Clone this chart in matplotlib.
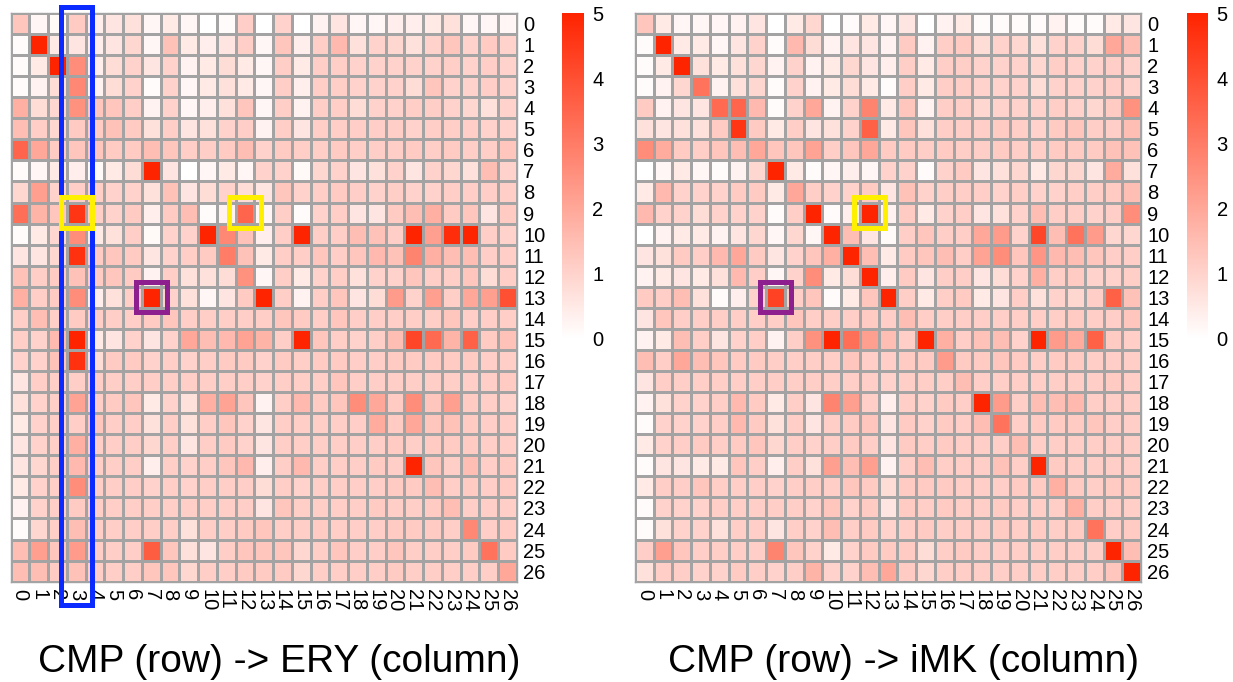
import numpy as np
import matplotlib
matplotlib.use('Agg')
import matplotlib.pyplot as plt
from matplotlib.colors import LinearSegmentedColormap
from matplotlib.patches import Rectangle

plt.rcParams['font.family'] = ['Liberation Sans', 'DejaVu Sans']

clusters = [str(i) for i in range(27)]

# CMP (row) -> ERY (column)
ery = np.array([
    [1.3,0.2,0.15,1.2,0.4,0.6,0.7,0.2,0.5,0.2,0,0.1,1.1,0, 1.0,0,0.3,0.6,0.2,0.2,0.4,0.4,0.5,0.7,0.2,0.2,0.2],
    [0.1,5,0.5,0.6,0.4,0.6,0.9,0.2,1.4,0.5,0.4,0.6,1.1,0.2, 1.3,0.4,1.1,1.6,0.7,1.0,0.9,0.7,1.0,1.3,1.0,1.2,1.0],
    [0.1,0.5,5,2.6,0.4,0.8,1.0,0.6,1.0,0.3,0.5,0.8,0.5,0.2, 1.1,0.5,1.1,1.1,1.0,1.0,1.0,1.0,1.0,1.1,1.0,1.1,1.0],
    [0.1,0.3,0.8,2.7,0.3,0.8,1.0,0.1,1.0,0.2,0.5,0.7,0.5,0.2, 1.1,0.4,1.1,1.1,1.0,1.0,1.0,0.8,1.3,1.0,1.0,1.1,1.0],
    [1.8,0.8,0.9,2.5,1.3,1.3,1.1,0.3,1.0,0.2,0.4,0.7,1.3,0.2, 1.1,0.3,1.1,1.1,0.8,1.0,1.0,1.1,1.1,1.0,0.9,0.7,1.0],
    [1.5,1.1,0.9,1.2,1.2,1.4,1.2,0.7,1.1,0.6,0.7,1.0,1.1,0.3, 1.1,0.6,1.1,1.1,1.1,1.1,1.1,1.0,1.1,1.1,1.1,1.0,1.0],
    [3.5,2.0,1.2,1.3,1.3,1.2,1.2,1.5,1.3,1.1,1.1,1.2,1.5,1.0, 1.2,1.1,1.1,1.2,1.1,1.1,1.1,1.2,1.1,1.2,1.1,1.1,1.3],
    [0.1,0.2,0.5,0.4,0.15,0.5,0.8,5,0.6,0,0.2,0.5,0.2,1.0, 1.0,0.15,0.9,1.0,0.6,0.7,1.0,0.6,1.0,0.9,0.7,1.5,1.0],
    [0.9,2.2,1.0,1.1,1.1,1.0,1.0,0.7,1.4,0.6,0.8,1.0,0.8,0.6, 1.3,1.0,1.1,1.2,1.1,1.0,1.1,1.0,1.0,1.1,1.1,1.1,1.1],
    [3.3,1.7,1.3,4.6,1.1,1.0,1.2,0.4,1.2,1.5,0.1,0.3,3.5,0.2, 1.1,0.1,1.0,1.1,0.6,0.6,1.2,1.5,1.8,1.2,1.3,0.6,1.2],
    [0.1,0.5,0.9,2.6,0.5,0.7,1.1,0.15,1.0,1.0,5,2.7,1.4,0.4, 1.1,5,1.1,1.1,1.5,1.4,1.1,5,2.2,4.8,5,1.1,1.0],
    [0.6,0.6,0.9,4.7,1.2,1.3,1.2,0.6,1.0,1.1,1.2,3.0,1.4,0.5, 1.1,1.1,1.3,1.1,1.3,1.6,1.4,2.8,1.8,1.5,1.5,1.1,1.1],
    [1.4,1.1,1.2,1.4,1.2,1.3,1.2,0.3,1.1,0.7,0.7,0.8,2.5,0.2, 1.1,0.5,1.0,1.1,0.7,1.0,1.0,1.3,1.1,1.1,1.3,0.8,1.1],
    [1.8,1.1,1.2,2.6,0.4,0.7,1.1,5,1.0,0.7,0.2,0.6,1.2,5, 1.1,0.3,1.1,1.3,0.6,0.8,2.3,1.0,2.2,1.1,2.0,2.2,4.0],
    [1.1,1.5,1.1,1.2,1.1,1.1,1.1,1.2,1.3,1.1,1.1,1.1,1.1,1.1, 1.3,1.2,1.1,1.3,1.1,1.1,1.1,1.1,1.1,1.3,1.1,1.1,1.1],
    [1.1,1.0,1.6,5,0.5,0.6,1.0,0.6,1.0,2.0,1.5,1.6,2.1,1.7, 1.1,5,1.3,1.1,1.0,1.1,1.5,4.2,3.4,1.7,3.6,1.2,1.4],
    [1.0,1.0,1.4,4.7,0.8,1.2,1.2,1.0,1.1,1.0,1.1,1.2,1.2,1.0, 1.2,1.1,1.2,1.2,1.1,1.1,1.2,1.2,1.2,1.2,1.2,1.1,1.1],
    [0.6,1.1,1.1,1.1,1.1,1.1,1.1,1.1,1.1,1.1,1.1,1.1,1.1,1.0, 1.1,1.1,1.1,1.3,1.1,1.1,1.1,1.1,1.1,1.1,1.1,1.1,1.2],
    [0.7,1.0,1.1,2.1,1.1,1.2,1.3,0.5,1.0,0.7,1.8,2.1,1.3,0.3, 1.1,1.6,1.2,1.3,2.6,2.0,1.2,2.6,1.3,2.2,1.2,1.1,1.0],
    [0.5,1.0,1.1,1.1,1.3,1.1,1.1,0.7,1.1,0.7,1.1,1.3,1.0,0.6, 1.1,1.1,1.1,1.1,1.1,1.9,1.2,2.0,1.3,1.4,1.2,1.1,1.1],
    [0.6,1.0,1.1,1.8,1.1,1.1,1.1,0.9,1.1,0.6,1.1,1.2,1.0,0.6, 1.1,1.1,1.1,1.1,1.1,1.1,1.2,1.1,1.2,1.2,1.2,1.1,1.1],
    [0.6,0.9,1.1,1.6,1.1,1.1,1.1,0.4,1.1,1.0,1.1,1.3,1.6,0.4, 1.1,1.6,1.1,1.1,1.1,1.2,1.1,5,1.3,1.1,1.5,1.1,1.2],
    [0.5,1.0,1.1,2.6,1.1,1.1,1.1,1.0,1.1,1.0,1.1,1.1,1.1,0.8, 1.1,1.0,1.1,1.1,1.1,1.1,1.2,1.2,1.5,1.1,1.2,1.1,1.2],
    [0.3,1.0,1.1,1.2,1.1,1.1,1.1,1.1,1.1,1.1,1.1,1.1,1.1,0.6, 1.3,1.1,1.1,1.1,1.1,1.2,1.1,1.1,1.2,1.5,1.1,1.1,1.1],
    [0.1,0.9,1.1,1.5,1.1,1.1,1.1,1.1,1.1,0.7,1.1,1.1,1.2,1.3, 1.1,1.1,1.2,1.1,1.1,1.1,1.2,1.2,1.2,1.1,2.7,1.1,1.2],
    [1.5,2.2,1.3,2.3,1.1,1.1,1.1,3.7,1.3,0.7,0.6,1.1,1.3,1.3, 1.3,0.9,1.1,1.3,1.1,1.1,1.3,1.1,1.1,1.1,1.2,3.2,1.2],
    [1.5,1.5,1.2,1.4,1.1,1.1,1.1,1.3,1.3,0.9,1.1,1.1,1.2,1.2, 1.2,0.9,1.1,1.1,1.1,1.1,1.2,1.1,1.1,1.1,1.1,1.1,2.0],
])

# CMP (row) -> iMK (column)
imk = np.array([
    [1.3,0.5,0.2,0.2,0.2,0.3,0.6,0,0.5,0.9,0,0.1,0.5,0.2, 0.6,0,0.3,0.5,0.1,0.1,0.1,0.1,0.3,0.1,0.1,0.5,0.6],
    [0.1,5,0.5,0.5,0.2,0.6,1.0,0.1,1.6,0.8,0.3,0.6,0.6,0.3, 1.2,0.3,1.1,1.2,0.8,1.0,0.9,0.7,1.0,1.0,0.8,2.0,1.5],
    [0.1,0.5,5,0.7,0.5,0.7,0.9,0.3,1.0,0.3,0.5,0.9,0.6,0.4, 1.1,0.5,1.1,1.1,1.0,1.0,1.0,0.9,1.1,1.0,1.0,1.1,1.0],
    [0.1,0.3,0.9,3.2,0.3,0.7,0.9,0.1,1.0,0.3,0.5,0.8,0.5,0.1, 1.1,0.5,1.1,1.1,1.0,1.0,1.0,0.8,1.0,1.0,1.0,1.1,1.0],
    [1.2,0.3,0.6,0.6,3.4,3.5,1.6,0.1,1.0,2.0,0.3,1.0,2.8,0.5, 1.3,0.3,1.1,1.1,0.9,1.0,1.0,1.0,1.1,1.0,0.9,1.2,2.5],
    [0.7,0.6,0.7,0.7,1.2,4.6,1.2,0.5,1.1,0.6,0.7,1.0,3.6,0.5, 1.3,0.7,1.1,1.1,1.1,1.2,1.1,1.0,1.2,1.3,1.1,1.1,1.5],
    [2.6,1.9,1.2,1.1,1.3,1.5,2.0,1.3,1.3,2.1,1.1,1.3,2.0,1.2, 1.2,1.1,1.2,1.1,1.1,1.2,1.1,1.1,1.2,1.2,1.2,1.4,1.4],
    [0,0.2,0.5,0.2,0.1,0.3,0.9,5,0.5,0.1,0.2,0.4,0.2,1.0, 1.0,0.1,1.0,1.2,0.6,0.7,0.9,0.5,0.9,0.9,0.6,1.9,0.7],
    [0.5,1.6,1.0,1.0,1.0,1.2,1.2,0.5,2.0,1.1,1.0,1.0,1.2,0.6, 1.4,1.0,1.1,1.1,1.1,1.0,1.1,1.0,1.0,1.1,1.1,1.2,1.5],
    [1.6,1.0,1.0,0.8,1.0,1.0,1.0,0.1,1.1,5,0.1,0.4,5,0.3, 1.2,0.5,1.0,1.1,0.6,0.7,1.0,1.5,1.1,1.1,1.0,1.1,2.6],
    [0,0.3,0.5,0.5,0.3,0.6,0.9,0.2,0.9,0.2,5,1.5,0.6,0.15, 1.1,1.3,1.1,1.1,2.0,2.3,1.0,4.2,1.5,3.2,2.3,0.9,0.9],
    [0.6,0.7,1.2,1.1,1.6,2.0,1.2,0.6,1.0,1.3,1.8,5,1.5,0.5, 1.2,1.3,1.5,1.1,2.1,2.6,1.3,2.4,1.6,1.5,1.3,1.1,1.1],
    [0.3,0.5,0.6,0.5,0.7,1.6,1.1,0.2,1.0,2.6,0.5,0.8,5,0.4, 1.2,0.6,1.1,1.1,0.6,0.8,1.0,1.8,1.1,1.2,1.0,1.0,1.1],
    [1.2,1.1,1.5,0.7,0.1,0.4,1.0,4.3,1.1,1.3,0.1,0.5,1.3,5, 1.1,0.5,1.1,1.2,0.5,0.6,1.1,0.7,1.0,0.9,1.1,3.6,1.4],
    [0.6,1.3,1.1,1.1,1.1,1.1,1.1,1.1,1.3,1.1,1.1,1.1,1.2,1.1, 1.5,1.1,1.1,1.1,1.1,1.1,1.1,1.1,1.1,1.2,1.1,1.1,1.3],
    [0.3,0.5,1.5,1.1,0.6,1.0,1.1,0.3,1.1,2.5,5,3.3,2.2,1.5, 1.1,5,1.8,1.1,1.4,1.5,1.0,5,2.3,1.9,3.6,1.2,1.1],
    [1.5,1.1,2.0,1.5,1.3,1.2,1.2,1.1,1.1,1.1,1.1,1.3,1.1,1.1, 1.2,1.2,2.3,1.2,1.2,1.3,1.2,1.1,1.2,1.2,1.1,1.1,1.1],
    [0.6,1.1,1.1,1.1,1.1,1.1,1.1,1.1,1.1,1.1,1.1,1.1,1.1,1.0, 1.1,1.1,1.1,1.5,1.1,1.1,1.1,1.1,1.1,1.1,1.1,1.2,1.1],
    [0.3,0.7,1.0,1.0,1.1,1.6,1.2,0.5,1.1,0.6,2.8,2.2,1.1,0.4, 1.1,1.0,1.2,1.1,5,2.3,1.1,1.5,1.5,1.6,1.1,1.1,1.1],
    [0.1,1.0,1.0,1.0,1.1,1.6,1.2,0.7,1.1,0.6,1.1,1.2,1.3,0.6, 1.2,1.0,1.2,1.1,1.5,3.2,1.1,1.2,1.2,1.2,1.3,1.1,1.1],
    [0.5,1.0,1.1,1.2,1.1,1.2,1.3,0.9,1.1,1.0,1.1,1.2,1.1,0.6, 1.2,1.1,1.2,1.1,1.1,1.1,1.5,1.1,1.1,1.1,1.1,1.1,1.1],
    [0.1,0.6,0.6,0.5,0.5,1.3,1.1,0.4,1.1,0.7,2.2,1.5,2.2,0.3, 1.1,1.5,1.1,1.1,1.1,1.4,1.1,5,1.2,1.1,1.1,1.1,1.1],
    [0.5,1.1,1.1,1.3,1.1,1.1,1.1,1.0,1.1,1.1,1.1,1.3,1.2,0.8, 1.2,1.2,1.2,1.1,1.1,1.1,1.2,1.2,1.8,1.2,1.1,1.2,1.2],
    [0.1,1.0,1.0,1.0,1.1,1.1,1.1,1.1,1.1,1.0,1.3,1.0,1.2,0.6, 1.2,1.1,1.2,1.1,1.1,1.2,1.1,1.1,1.1,1.8,1.1,1.1,1.1],
    [0.1,0.7,1.0,1.0,0.7,1.1,1.1,0.6,1.1,1.0,1.5,1.1,1.2,1.0, 1.1,1.2,1.1,1.1,1.1,1.2,1.1,1.2,1.1,1.2,3.2,1.1,1.2],
    [1.1,2.2,1.3,1.1,1.1,1.1,1.1,2.8,1.3,1.0,0.5,1.0,1.2,1.2, 1.2,0.8,1.1,1.2,1.1,1.1,1.1,1.1,1.1,1.1,1.1,5,1.5],
    [0.7,1.1,1.1,1.0,1.0,1.2,1.1,1.0,1.1,1.7,1.0,1.0,1.5,2.0, 1.2,0.9,1.1,1.1,1.1,1.1,1.1,1.1,1.1,1.1,1.1,1.3,5],
])

titles = ['CMP (row) -> ERY (column)', 'CMP (row) -> iMK (column)']

# highlighted cells: (panel, row, col, colour)
boxes = [
    (0, 9, 3, '#FFF000'),
    (0, 9, 12, '#FFF000'),
    (0, 13, 7, '#8E1F8E'),
    (1, 9, 12, '#FFF000'),
    (1, 13, 7, '#8E1F8E'),
]
blue_col = 3

cmap = LinearSegmentedColormap.from_list('white_red', ['#FFFFFF', '#FF2400'])

fig = plt.figure(figsize=(12.33, 6.82), dpi=100)

panels = [
    (ery, [0.0087, 0.1471, 0.4104, 0.8339], [0.4556, 0.503, 0.0181, 0.4776], 279 / 1233),
    (imk, [0.5150, 0.1471, 0.4104, 0.8339], [0.9624, 0.503, 0.0175, 0.4776], 904 / 1233),
]

axes = []
for i, (mat, heat_rect, cbar_rect, title_x) in enumerate(panels):
    ax = fig.add_axes(heat_rect)
    n = mat.shape[0]
    mesh = ax.pcolormesh(np.arange(n + 1), np.arange(n + 1), mat, cmap=cmap,
                         vmin=0, vmax=5, edgecolors='#A3A3A3', linewidth=1.0)
    ax.set_xlim(0, n)
    ax.set_ylim(n, 0)
    ax.set_xticks(np.arange(n) + 0.5)
    ax.set_xticklabels(clusters, rotation=270, fontsize=14.5)
    ax.set_yticks(np.arange(n) + 0.5)
    ax.set_yticklabels(clusters, fontsize=14.5)
    ax.yaxis.tick_right()
    ax.tick_params(axis='both', length=0)
    ax.tick_params(axis='x', pad=5.5)
    ax.tick_params(axis='y', pad=4.5)
    for s in ax.spines.values():
        s.set_edgecolor('#A3A3A3')
        s.set_linewidth(1.0)

    cax = fig.add_axes(cbar_rect)
    cb = fig.colorbar(mesh, cax=cax, ticks=[0, 1, 2, 3, 4, 5])
    cb.outline.set_visible(False)
    cax.tick_params(length=0, labelsize=14.5, pad=6)

    fig.text(title_x, 1 - 662 / 682, titles[i], fontsize=28, ha='center', va='center')
    axes.append(ax)

# blue column box on the left panel
axes[0].add_patch(Rectangle((blue_col - 0.34, -0.26), 1.68, 28.37, fill=False,
                            edgecolor='#0A2AFF', linewidth=3.6, clip_on=False, zorder=5))

for p, r, c, col in boxes:
    axes[p].add_patch(Rectangle((c - 0.34, r - 0.24), 1.68, 1.45, fill=False,
                                edgecolor=col, linewidth=3.6, clip_on=False, zorder=6))

fig.savefig('out.png', dpi=100)
